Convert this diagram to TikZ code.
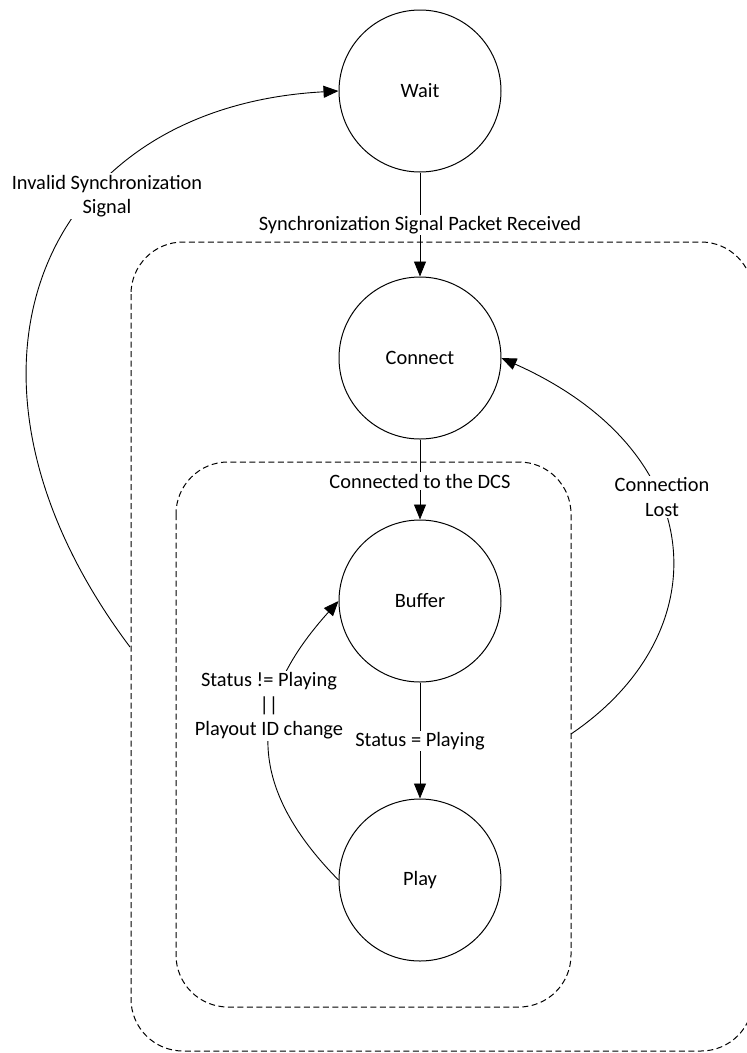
\documentclass[tikz,border=0pt]{standalone}
\usepackage{fontspec}
\setmainfont{Carlito}
\usetikzlibrary{arrows.meta}
\begin{document}
\begin{tikzpicture}[x=1pt,y=-1pt,
  state/.style={draw,circle,minimum size=162pt,inner sep=0pt,line width=1pt},
  lbl/.style={fill=white,inner sep=1.5pt,align=center},
  trans/.style={line width=0.9pt,-{Triangle[length=15pt,width=12pt]}},
  grp/.style={draw,line width=1pt,dash pattern=on 6pt off 3.5pt,rounded corners=52pt},
  every node/.style={font=\fontsize{20.4}{24.5}\selectfont}]
\useasboundingbox (0,0) rectangle (747,1053);
\clip (0,0) rectangle (747,1053);
% groups
\draw[grp] (131,242) rectangle (753,1051);
\draw[grp] (176,462) rectangle (571,1007);
\coordinate (outerL) at (130,647);
\coordinate (innerR) at (571,734);
% states
\node[state] (wait) at (420,91) {Wait};
\node[state] (connect) at (420,358) {Connect};
\node[state] (buffer) at (420,601) {Buffer};
\node[state] (play) at (420,880) {Play};
% transitions
\draw[trans] (wait) -- (connect);
\node[lbl] (l1) at (420,225) {Synchronization Signal Packet Received};
\draw[trans] (connect) -- (buffer);
\node[lbl] (l2) at (420,481) {Connected to the DCS};
\draw[trans] (buffer) -- (play);
\node[lbl] (l3) at (420,741) {Status = Playing};
\draw[trans] (outerL) .. controls (-74,375) and (39,107) .. (wait.west);
\node[lbl] (l4) at (107,196) {Invalid Synchronization\\Signal};
\draw[trans] (innerR) .. controls (720,633) and (712,452) .. (connect.east);
\node[lbl] (l5) at (662,497) {Connection\\Lost};
\draw[trans] (play.west) .. controls (241,781) and (251,698) .. (buffer.west);
\node[lbl] (l6) at (269,706) {Status != Playing\\||\\Playout ID change};
\end{tikzpicture}
\end{document}
